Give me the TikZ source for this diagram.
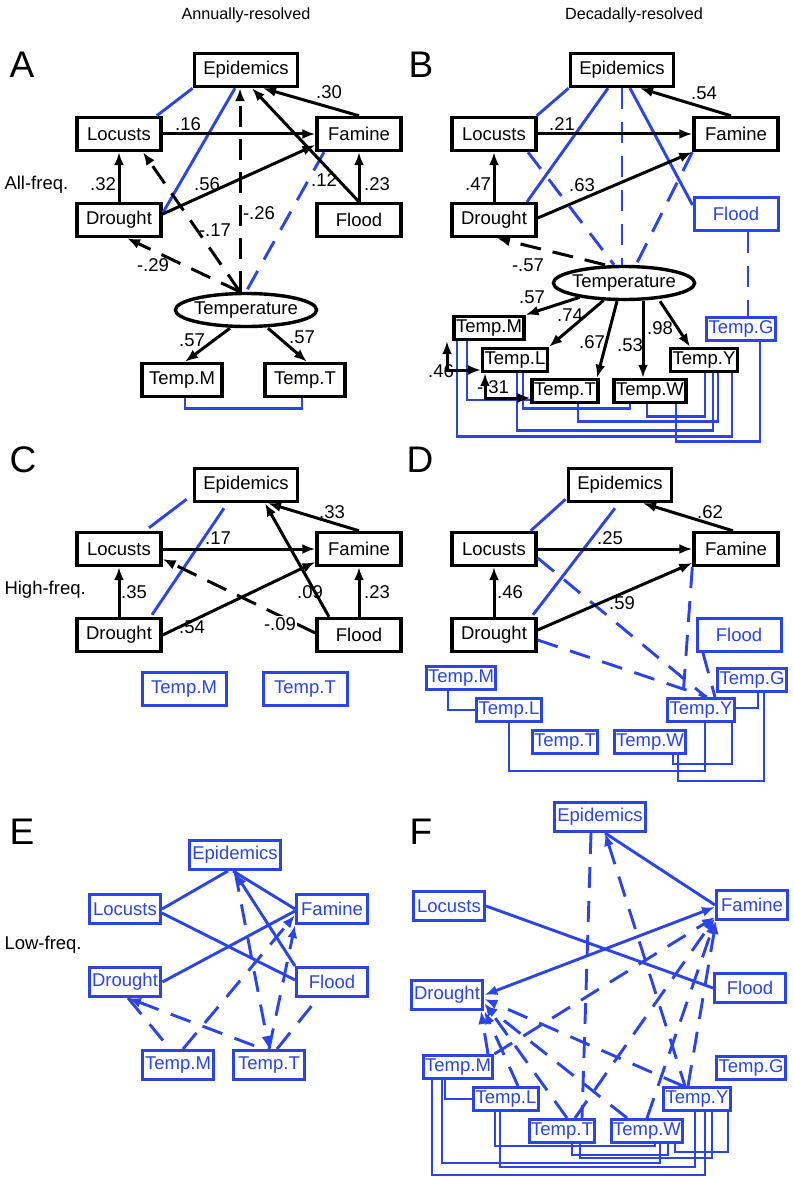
\documentclass[tikz,border=0pt]{standalone}
\usepackage{fontspec}
\setmainfont{Liberation Sans}
\usetikzlibrary{shapes.geometric, arrows.meta, positioning}
\definecolor{bl}{RGB}{42,68,232}
\tikzstyle{every node}=[font=\fontsize{18.5}{21}\selectfont]
\tikzstyle{var}=[draw,rectangle,line width=3.4pt,inner xsep=9pt,minimum height=33pt,minimum width=84pt]
\tikzstyle{bvar}=[var,draw=bl,text=bl,line width=3pt]
\tikzstyle{tvar}=[draw,rectangle,line width=3.4pt,inner xsep=2pt,inner ysep=1pt,minimum height=23pt]
\tikzstyle{btvar}=[tvar,draw=bl,text=bl,line width=3pt]
\tikzstyle{evar}=[draw=bl,text=bl,rectangle,line width=3pt,inner xsep=3pt,minimum height=29pt,minimum width=71pt]
\tikzstyle{latent}=[draw,ellipse,line width=3.4pt,inner xsep=-2pt,inner ysep=0pt,minimum height=33pt]
\tikzstyle{arr}=[->,line width=3pt]
\tikzstyle{neg}=[arr,dash pattern=on 21pt off 12pt]
\tikzstyle{cor}=[bl,line width=2.9pt]
\tikzstyle{bdash}=[cor,dash pattern=on 21pt off 13pt]
\tikzstyle{lbl}=[inner sep=0pt]
\tikzstyle{hdr}=[font=\fontsize{16.2}{19}\selectfont]
\tikzstyle{panel}=[font=\fontsize{37}{40}\selectfont]

\begin{document}
\begin{tikzpicture}[x=1pt,y=-1pt,>={Latex[length=13pt,width=10pt]}]
    \useasboundingbox (0,0) rectangle (793,1177);
    \node[hdr] (hA) at (246,15) {Annually-resolved};
    \node[hdr] (hB) at (634,15) {Decadally-resolved};
    \node[panel] (pA) at (22,65) {A};
    \node[panel] (pB) at (421,65) {B};
    \node[panel] (pC) at (23,460) {C};
    \node[panel] (pD) at (420,460) {D};
    \node[panel] (pE) at (22,832) {E};
    \node[panel] (pF) at (421,832) {F};
    \node[anchor=west] (fAll) at (1,185) {All-freq.};
    \node[anchor=west] (fHigh) at (1,590) {High-freq.};
    \node[anchor=west] (fLow) at (1,945) {Low-freq.};

    \node[var] (aEpi) at (246,70) {Epidemics};
    \node[var] (aLoc) at (119,134) {Locusts};
    \node[var] (aFam) at (359,134) {Famine};
    \node[var] (aDro) at (119,220) {Drought};
    \node[var] (aFlo) at (359,220) {Flood};
    \node[latent] (aTemp) at (246,310) {Temperature};
    \node[var, inner xsep=5pt, minimum width=80pt] (aTM) at (182,380) {Temp.M};
    \node[var, inner xsep=5pt, minimum width=80pt] (aTT) at (305,380) {Temp.T};
    \draw[cor] ([xshift=-6pt]aLoc.north east) -- (aEpi.south west);
    \draw[cor] ([yshift=7pt]aDro.east) -- ([xshift=-11pt]aEpi.south);
    \draw[bdash] ([xshift=-35pt]aFam.south) -- (aTemp.north);
    \draw[arr] (aLoc) -- (aFam);
    \draw[arr] (aFam.north) -- ([xshift=17pt]aEpi.south);
    \draw[arr] (aFlo.north) -- ([xshift=6pt]aEpi.south);
    \draw[arr] (aFlo) -- (aFam);
    \draw[arr] (aDro) -- (aLoc);
    \draw[arr] ([yshift=6pt]aDro.east) -- ([yshift=-11pt]aFam.west);
    \draw[neg] ([xshift=-6pt]aTemp.north) -- ([xshift=-6pt]aEpi.south);
    \draw[neg] ([xshift=-6pt]aTemp.north) -- ([xshift=24pt]aLoc.south);
    \draw[neg] ([xshift=-6pt]aTemp.north) -- ([xshift=8pt]aDro.south);
    \draw[arr] ([xshift=-16pt]aTemp.south) -- ([xshift=3pt]aTM.north);
    \draw[arr] ([xshift=22pt]aTemp.south) -- ([xshift=2pt]aTT.north);
    \draw[cor] ([xshift=3pt]aTM.south) -- ++(0,10) -| ([xshift=-3pt]aTT.south);
    \node[lbl] (a1) at (188,124) {.16};
    \node[lbl] (a2) at (329,92) {.30};
    \node[lbl] (a3) at (324,180) {.12};
    \node[lbl] (a4) at (377,184) {.23};
    \node[lbl] (a5) at (103,184) {.32};
    \node[lbl] (a6) at (207,184) {.56};
    \node[lbl] (a7) at (259,213) {-.26};
    \node[lbl] (a8) at (215,230) {-.17};
    \node[lbl] (a9) at (153,265) {-.29};
    \node[lbl] (a10) at (192,340) {.57};
    \node[lbl] (a11) at (302,337) {.57};

    \node[var] (bEpi) at (622,70) {Epidemics};
    \node[var] (bLoc) at (494,134) {Locusts};
    \node[var] (bFam) at (736,134) {Famine};
    \node[var] (bDro) at (494,220) {Drought};
    \node[bvar] (bFlo) at (736,214) {Flood};
    \node[latent] (bTemp) at (624,283) {Temperature};
    \node[tvar] (bTM) at (489,328) {Temp.M};
    \node[tvar] (bTL) at (515,360) {Temp.L};
    \node[tvar] (bTT) at (565,391) {Temp.T};
    \node[tvar] (bTW) at (650,391) {Temp.W};
    \node[tvar] (bTY) at (704,360) {Temp.Y};
    \node[btvar] (bTG) at (741,329) {Temp.G};
    \draw[cor] ([xshift=-1pt]bLoc.north east) -- (bEpi.south west);
    \draw[cor] ([xshift=33pt]bDro.north) -- ([xshift=-14pt]bEpi.south);
    \draw[cor] ([xshift=8pt]bEpi.south) -- ([yshift=9pt]bFlo.west);
    \draw[bdash] ([xshift=34pt]bLoc.south) -- ([xshift=-10pt]bTemp.north);
    \draw[bdash] (bEpi.south) -- (bEpi.south |- bTemp.north);
    \draw[bdash] (bFam.south west) -- ([xshift=12pt]bTemp.north);
    \draw[bdash] ([xshift=12pt]bFlo.south) -- ([xshift=12pt]bFlo.south |- bTG.north);
    \draw[arr] (bLoc) -- (bFam);
    \draw[arr] ([xshift=-5pt]bFam.north) -- ([xshift=18pt]bEpi.south);
    \draw[arr] (bDro) -- (bLoc);
    \draw[arr] ([yshift=2pt]bDro.east) -- (bFam.south west);
    \draw[neg] ([xshift=-19pt]bTemp.north) -- ([xshift=3pt]bDro.south);
    \draw[arr] (bTemp) -- (bTM.north east);
    \draw[arr] (bTemp) -- (bTL.north east);
    \draw[arr] ([xshift=-7pt]bTemp.south) -- ([xshift=32pt]bTT.north);
    \draw[arr] ([xshift=19pt]bTemp.south) -- ([xshift=-7pt]bTW.north);
    \draw[arr] ([xshift=36pt]bTemp.south) -- ([xshift=-14pt]bTY.north);
    \draw[cor] ([xshift=-32pt]bTM.south) -- ++(0,95) -| ([xshift=28pt]bTY.south);
    \draw[cor] ([xshift=-22pt]bTM.south) |- ([yshift=-9pt]bTT.west);
    \draw[cor] ([xshift=2pt]bTL.south) -- ++(0,57) -| ([xshift=9pt]bTY.south);
    \draw[cor] ([xshift=8pt]bTL.south) -- ++(0,35) -| ([xshift=-20pt]bTW.south);
    \draw[cor] ([xshift=13pt]bTT.south) -- ++(0,17) -| ([xshift=14pt]bTY.south);
    \draw[cor] ([xshift=-3pt]bTW.south) -- ++(0,12) -| ([xshift=1pt]bTY.south);
    \draw[cor] ([xshift=26pt]bTW.south) -- ++(0,37) -| ([xshift=19pt]bTG.south);
    \draw[arr,<->] ([xshift=-42pt]bTM.south) |- ([yshift=-10pt]bTL.west);
    \draw[arr,<->] ([xshift=-30pt]bTL.south) |- ([yshift=-7pt]bTT.west);
    \node[lbl] (b1) at (562,124) {.21};
    \node[lbl] (b2) at (704,93) {.54};
    \node[lbl] (b3) at (478,184) {.47};
    \node[lbl] (b4) at (582,185) {.63};
    \node[lbl] (b5) at (528,265) {-.57};
    \node[lbl] (b6) at (532,297) {.57};
    \node[lbl] (b7) at (570,315) {.74};
    \node[lbl] (b8) at (592,342) {.67};
    \node[lbl] (b9) at (630,345) {.53};
    \node[lbl] (b10) at (660,328) {.98};
    \node[lbl] (b11) at (441,371) {.46};
    \node[lbl] (b12) at (493,387) {-.31};

    \node[var] (cEpi) at (246,485) {Epidemics};
    \node[var] (cLoc) at (119,549) {Locusts};
    \node[var] (cFam) at (359,549) {Famine};
    \node[var] (cDro) at (119,635) {Drought};
    \node[var] (cFlo) at (359,635) {Flood};
    \node[bvar] (cTM) at (184,689) {Temp.M};
    \node[bvar] (cTT) at (305,689) {Temp.T};
    \draw[cor] ([xshift=30pt,yshift=3pt]cLoc.north) -- ([xshift=-6pt,yshift=4pt]cEpi.south west);
    \draw[cor] ([xshift=33pt,yshift=2pt]cDro.north) -- ([xshift=-22pt,yshift=-5pt]cEpi.south);
    \draw[arr] (cLoc) -- (cFam);
    \draw[arr] (cFam.north) -- ([xshift=22pt]cEpi.south);
    \draw[arr] ([xshift=-30pt]cFlo.north) -- ([xshift=19pt]cEpi.south);
    \draw[arr] (cFlo) -- (cFam);
    \draw[arr] (cDro) -- (cLoc);
    \draw[arr] (cDro.east) -- ([yshift=-13pt]cFam.west);
    \draw[neg] ([yshift=2pt]cFlo.west) -- ([yshift=-10pt]cLoc.east);
    \node[lbl] (c1) at (218,538) {.17};
    \node[lbl] (c2) at (332,512) {.33};
    \node[lbl] (c3) at (310,592) {.09};
    \node[lbl] (c4) at (377,592) {.23};
    \node[lbl] (c5) at (134,592) {.35};
    \node[lbl] (c6) at (192,627) {.54};
    \node[lbl,fill=white,inner sep=1pt] (c7) at (280,624) {-.09};

    \node[var] (dEpi) at (620,485) {Epidemics};
    \node[var] (dLoc) at (494,549) {Locusts};
    \node[var] (dFam) at (736,549) {Famine};
    \node[var] (dDro) at (494,635) {Drought};
    \node[bvar] (dFlo) at (739,635) {Flood};
    \node[btvar] (dTM) at (461,678) {Temp.M};
    \node[btvar] (dTL) at (509,710) {Temp.L};
    \node[btvar] (dTT) at (565,742) {Temp.T};
    \node[btvar] (dTW) at (650,742) {Temp.W};
    \node[btvar] (dTY) at (701,710) {Temp.Y};
    \node[btvar] (dTG) at (752,680) {Temp.G};
    \draw[cor] ([xshift=-7pt]dLoc.north east) -- ([xshift=-1pt,yshift=4pt]dEpi.south west);
    \draw[cor] ([xshift=39pt,yshift=2pt]dDro.north) -- ([xshift=-5pt,yshift=-5pt]dEpi.south);
    \draw[bdash] ([yshift=-9pt]dLoc.east) -- ([xshift=5pt]dTY.north);
    \draw[bdash] ([yshift=-5pt]dDro.east) -- ([xshift=6pt]dTY.north);
    \draw[bdash] (dFam.south west) -- ([xshift=-18pt]dTY.north);
    \draw[bdash] ([xshift=-36pt]dFlo.south) -- ([xshift=14pt]dTY.north);
    \draw[arr] (dLoc) -- (dFam);
    \draw[arr] ([xshift=-3pt]dFam.north) -- ([xshift=23pt]dEpi.south);
    \draw[arr] (dDro) -- (dLoc);
    \draw[arr] ([yshift=5pt]dDro.east) -- ([yshift=-14pt]dFam.west);
    \draw[cor] ([xshift=-13pt]dTM.south) |- (dTL.west);
    \draw[cor] (dTL.south) -- ++(0,48) -| ([xshift=4pt]dTY.south);
    \draw[cor] ([xshift=23pt]dTW.south) -- ++(0,9) -| ([xshift=31pt]dTY.south);
    \draw[cor] ([xshift=28pt]dTW.south) -- ++(0,26) -| ([xshift=12pt]dTG.south);
    \draw[cor] ([yshift=2pt]dTY.east) -| ([xshift=6pt]dTG.south);
    \node[lbl] (d1) at (610,538) {.25};
    \node[lbl] (d2) at (710,512) {.62};
    \node[lbl] (d3) at (510,592) {.46};
    \node[lbl] (d4) at (622,603) {.59};

    \node[evar] (eEpi) at (235,855) {Epidemics};
    \node[evar] (eLoc) at (125,909) {Locusts};
    \node[evar] (eFam) at (332,909) {Famine};
    \node[evar] (eDro) at (125,982) {Drought};
    \node[evar] (eFlo) at (332,982) {Flood};
    \node[evar] (eTM) at (178,1065) {Temp.M};
    \node[evar] (eTT) at (269,1065) {Temp.T};
    \draw[cor] (eLoc.east) -- ([xshift=-7pt]eEpi.south);
    \draw[cor] ([xshift=-2pt]eEpi.south) -- (eFam.west);
    \draw[cor] ([yshift=-4pt]eLoc.east) -- ([yshift=2pt]eFlo.west);
    \draw[cor] (eDro.east) -- ([yshift=-2pt]eFam.west);
    \draw[cor,->] (eFlo.north west) -- ([yshift=-2pt]eEpi.south);
    \draw[bdash,->] (eEpi.south) -- (eTT.north);
    \draw[bdash,<-] ([xshift=3pt]eDro.south) -- ([xshift=-6pt]eTT.north);
    \draw[bdash] ([xshift=3pt]eDro.south) -- ([xshift=-8pt]eTM.north);
    \draw[bdash,->] ([xshift=5pt]eTM.north) -- ([yshift=-6pt]eFam.west);
    \draw[bdash,->] (eTT.north) -- (eFam.south west);
    \draw[bdash] ([xshift=8pt]eTT.north) -- ([xshift=-14pt]eFlo.south);

    \node[evar] (fEpi) at (600,817) {Epidemics};
    \node[evar] (fLoc) at (449,906) {Locusts};
    \node[evar] (fFam) at (752,905) {Famine};
    \node[evar] (fDro) at (447,995) {Drought};
    \node[evar] (fFlo) at (750,988) {Flood};
    \node[btvar] (fTM) at (458,1067) {Temp.M};
    \node[btvar] (fTL) at (506,1099) {Temp.L};
    \node[btvar] (fTT) at (562,1131) {Temp.T};
    \node[btvar] (fTW) at (647,1131) {Temp.W};
    \node[btvar] (fTY) at (697,1099) {Temp.Y};
    \node[btvar] (fTG) at (751,1068) {Temp.G};
    \draw[cor] ([xshift=5pt]fEpi.south) -- (fFam.west);
    \draw[cor] (fLoc.east) -- (fFlo.west);
    \draw[cor,<->] (fDro.east) -- ([yshift=-2pt]fFam.west);
    \draw[bdash] ([xshift=-9pt]fEpi.south) -- ([xshift=20pt]fTT.north);
    \draw[bdash,<-] ([xshift=5pt]fEpi.south) -- ([xshift=-12pt]fTY.north);
    \draw[bdash,->] ([xshift=12pt]fTL.north) -- (fDro.south east);
    \draw[bdash,->] ([xshift=-14pt]fTY.north) -- ([yshift=-4pt]fDro.east);
    \draw[bdash,->] ([xshift=5pt]fTT.north) -- ([yshift=-8pt]fDro.east);
    \draw[bdash,->] ([xshift=-20pt]fTW.north) -- ([yshift=-10pt]fDro.east);
    \draw[bdash,->] ([xshift=30pt]fTM.north) -- ([xshift=34pt]fDro.south);
    \draw[bdash,->] (fTM.north east) -- ([yshift=-12pt]fFam.west);
    \draw[bdash,->] ([xshift=13pt]fTT.north) -- ([yshift=-13pt]fFam.west);
    \draw[bdash,->] (fTW.north) -- (fFam.south west);
    \draw[bdash,->] ([xshift=-9pt]fTY.north) -- ([xshift=-36pt]fFam.south);
    \draw[cor] ([xshift=-13pt]fTM.south) |- (fTL.west);
    \draw[cor] ([xshift=-26pt]fTM.south) -- ++(0,95) -| ([xshift=8pt]fTY.south);
    \draw[cor] ([xshift=-16pt]fTM.south) -- ++(0,83) -| ([xshift=13pt]fTW.south);
    \draw[cor] ([xshift=-11pt]fTL.south) -- ++(0,34) -| ([xshift=8pt]fTW.south);
    \draw[cor] ([xshift=-6pt]fTL.south) -- ++(0,55) -| ([xshift=-2pt]fTY.south);
    \draw[cor] ([xshift=10pt]fTT.south) -- ++(0,11) -| ([xshift=21pt]fTW.south);
    \draw[cor] ([xshift=28pt]fTW.south) -- ++(0,8) -| ([xshift=31pt]fTY.south);
    \draw[cor] ([xshift=18pt]fTT.south) -- ++(0,14) -| ([xshift=15pt]fTY.south);
\end{tikzpicture}
\end{document}
